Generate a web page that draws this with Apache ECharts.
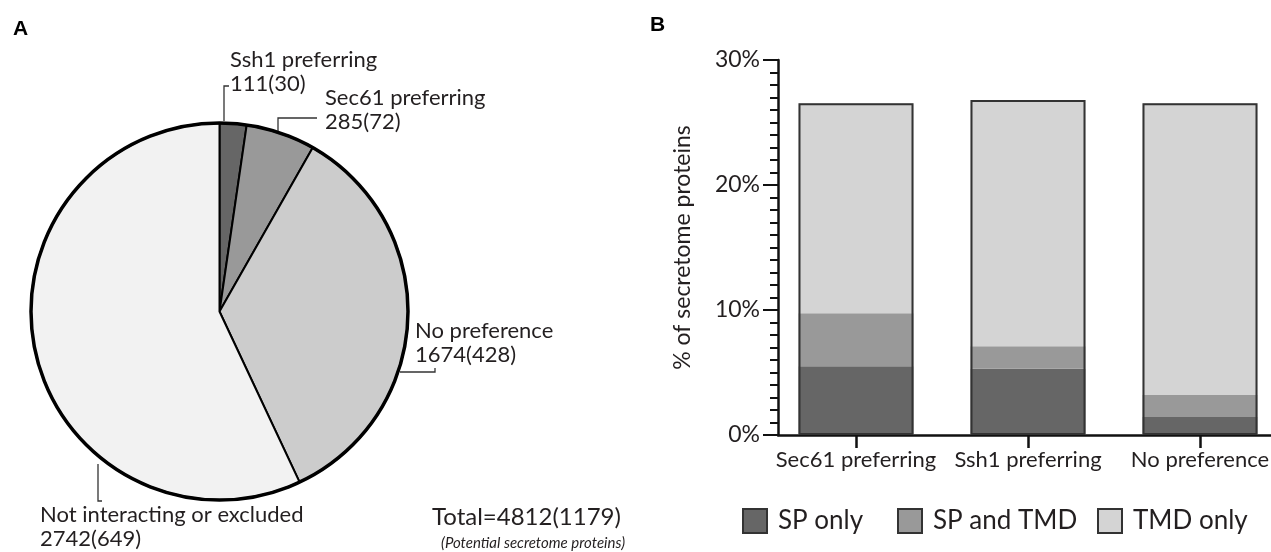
<!DOCTYPE html>
<html>
<head>
<meta charset="utf-8">
<script src="https://cdn.jsdelivr.net/npm/echarts@6/dist/echarts.min.js"></script>
<style>
html,body{margin:0;padding:0;background:#fff;}
#c{width:1271px;height:552px;}
</style>
</head>
<body>
<div id="c"></div>
<script>
// ---- data ----
const pieNames = ['Ssh1 preferring', 'Sec61 preferring', 'No preference', 'Not interacting or excluded'];
const pieCounts = [111, 285, 1674, 2742];
const pieSecretome = [30, 72, 428, 649];
const totalCount = 4812;
const totalSecretome = 1179;

const barCategories = ['Sec61 preferring', 'Ssh1 preferring', 'No preference'];
const spOnly = [5.5, 5.3, 1.45];
const spAndTmd = [4.25, 1.8, 1.75];
const tmdOnly = [16.8, 19.7, 23.35];
const yTickLabels = ['0%', '10%', '20%', '30%'];
const legendNames = ['SP only', 'SP and TMD', 'TMD only'];

// ---- style ----
const FONT = 'Lato';
const TXT = '#231f20';
const pieColors = ['#666666', '#999999', '#cccccc', '#f2f2f2'];
const barColors = ['#666666', '#999999', '#d4d4d4'];
// label placement (style only)
const pieLabelPos = [
  {x: 230, y: 48, line: [[224, 121], [224, 86], [229, 86]]},
  {x: 325, y: 86, line: [[278, 131], [278, 118], [317, 118]]},
  {x: 415, y: 319, line: [[400, 372], [435, 372], [435, 368]]},
  {x: 40, y: 503, line: [[98, 464], [98, 501], [102, 501]]}
];
const legendLeft = [742, 897, 1097];

const totals = spOnly.map((v, i) => +(v + spAndTmd[i] + tmdOnly[i]).toFixed(2));

const chart = echarts.init(document.getElementById('c'), null, {renderer: 'canvas'});

const option = {
  backgroundColor: '#fff',
  animation: false,
  textStyle: {fontFamily: FONT, color: TXT},
  title: [
    {text: 'A', left: 8, top: 14, textStyle: {fontFamily: 'Liberation Sans', fontWeight: 'bold', fontSize: 21, color: '#000'}},
    {text: 'B', left: 645, top: 10, textStyle: {fontFamily: 'Liberation Sans', fontWeight: 'bold', fontSize: 21, color: '#000'}},
    {text: 'Total=' + totalCount + '(' + totalSecretome + ')', left: 432, top: 505, padding: 0,
      textStyle: {fontFamily: FONT, fontWeight: 'normal', fontSize: 24, color: TXT}},
    {text: '(Potential secretome proteins)', left: 441, top: 536, padding: 0,
      textStyle: {fontFamily: FONT, fontStyle: 'italic', fontWeight: 'normal', fontSize: 15, color: TXT}}
  ],
  legend: legendNames.map((n, i) => ({
    data: [n],
    left: legendLeft[i], top: 508, padding: 0,
    itemWidth: 24, itemHeight: 24,
    icon: 'rect',
    itemStyle: {borderColor: '#333', borderWidth: 2},
    textStyle: {fontFamily: FONT, fontSize: 26, color: TXT, padding: [0, 0, 0, 6]}
  })),
  grid: [
    {left: 770, width: 516, top: 60, bottom: 117, containLabel: false, outerBoundsMode: 'none'},
    {left: 778, width: 508, top: 60, bottom: 117, containLabel: false, outerBoundsMode: 'none'}
  ],
  xAxis: [
    {
      type: 'category', gridIndex: 0, data: barCategories,
      axisLine: {show: false},
      axisTick: {show: true, alignWithLabel: true, length: 13, lineStyle: {color: '#111', width: 2.5}},
      axisLabel: {fontFamily: FONT, fontSize: 22, color: TXT, margin: 14, interval: 0},
      splitLine: {show: false}
    },
    {
      type: 'value', gridIndex: 1, min: 0, max: 1,
      axisLine: {show: true, onZero: false, lineStyle: {color: '#111', width: 2.5}},
      axisTick: {show: false}, axisLabel: {show: false}, splitLine: {show: false}
    }
  ],
  yAxis: [
    {
      type: 'value', gridIndex: 0, min: 0, max: 30, interval: 10, offset: -8,
      name: '% of secretome proteins', nameLocation: 'middle', nameGap: 84, nameRotate: 90,
      nameTextStyle: {fontFamily: FONT, fontSize: 23, color: TXT},
      axisLine: {show: true, lineStyle: {color: '#111', width: 2.5}},
      axisTick: {show: true, length: 15, lineStyle: {color: '#111', width: 2}},
      minorTick: {show: true, splitNumber: 10, length: 8, lineStyle: {color: '#111', width: 2}},
      axisLabel: {fontFamily: FONT, fontSize: 23, color: TXT, margin: 18,
        formatter: v => yTickLabels[Math.round(v / 10)]},
      splitLine: {show: false}
    },
    {type: 'value', gridIndex: 1, show: false, min: 0, max: 1}
  ],
  series: [
    {
      name: legendNames[0], type: 'bar', stack: 'b', barWidth: 115, xAxisIndex: 0, yAxisIndex: 0,
      data: spOnly, itemStyle: {color: barColors[0]}
    },
    {
      name: legendNames[1], type: 'bar', stack: 'b', barWidth: 115, xAxisIndex: 0, yAxisIndex: 0,
      data: spAndTmd, itemStyle: {color: barColors[1]}
    },
    {
      name: legendNames[2], type: 'bar', stack: 'b', barWidth: 115, xAxisIndex: 0, yAxisIndex: 0,
      data: tmdOnly, itemStyle: {color: barColors[2]}
    },
    {
      name: 'outline', type: 'bar', barWidth: 115, barGap: '-100%', xAxisIndex: 0, yAxisIndex: 0,
      data: totals, silent: true, z: 5,
      itemStyle: {color: 'rgba(0,0,0,0)', borderColor: '#333', borderWidth: 2}
    },
    {
      name: 'pie', type: 'pie', center: [219.5, 311.5], radius: 188.5,
      startAngle: 90, clockwise: true, avoidLabelOverlap: false,
      data: pieNames.map((n, i) => ({name: n, value: pieCounts[i], itemStyle: {color: pieColors[i]}})),
      itemStyle: {borderColor: '#000', borderWidth: 2},
      label: {
        show: true, position: 'outside', fontFamily: FONT, fontSize: 22, lineHeight: 24, color: TXT,
        formatter: p => p.name + '\n' + p.value + '(' + pieSecretome[p.dataIndex] + ')'
      },
      labelLine: {show: true, smooth: false, lineStyle: {color: '#333', width: 1.3}},
      labelLayout: p => {
        const L = pieLabelPos[p.dataIndex];
        return {x: L.x, y: L.y, align: 'left', verticalAlign: 'top', labelLinePoints: L.line};
      },
      emphasis: {disabled: true}
    },
    {
      name: 'pieRing', type: 'pie', center: [219.5, 311.5], radius: 188.5, silent: true, z: 5,
      data: [{name: 'ring', value: totalCount}],
      itemStyle: {color: 'rgba(0,0,0,0)', borderColor: '#000', borderWidth: 3.5},
      label: {show: false}, labelLine: {show: false}
    }
  ]
};
chart.setOption(option);
</script>
</body>
</html>
